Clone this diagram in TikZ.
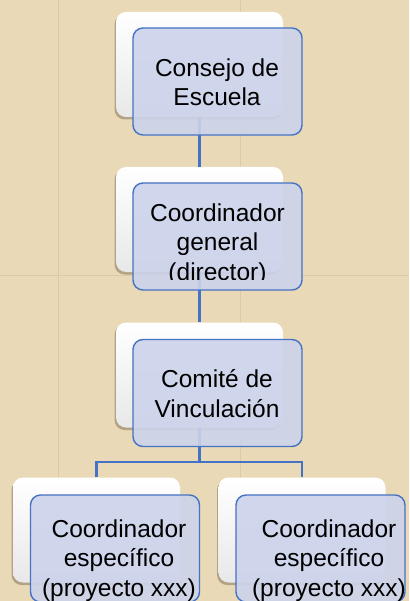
\documentclass[tikz,border=0pt]{standalone}
\usepackage{fontspec}
\setmainfont{Liberation Sans}
\usetikzlibrary{shadows}
\definecolor{parch}{RGB}{234,217,183}
\definecolor{seam}{RGB}{200,180,142}
\definecolor{lineblue}{RGB}{68,114,196}
\definecolor{boxblue}{RGB}{204,211,235}
\begin{document}
\begin{tikzpicture}[x=1pt,y=-1pt,
  backbox/.style={rectangle, rounded corners=10pt, minimum width=167pt, minimum height=105pt, inner sep=0pt,
    top color=white, bottom color=black!9,
    drop shadow={shadow xshift=-1.5pt, shadow yshift=-2.5pt, opacity=0.3, fill=black!70!brown}},
  frontbox/.style={rectangle, rounded corners=10pt, draw=lineblue, line width=1.4pt, fill=boxblue,
    fill opacity=0.9, minimum width=169pt, minimum height=107pt, inner sep=0pt},
  boxtext/.style={align=center, font=\fontsize{24.5}{29.5}\selectfont, text=black, inner sep=0pt, anchor=base},
  conn/.style={draw=lineblue, line width=2.2pt}]
\useasboundingbox (0,0) rectangle (409,601);
\clip (0,0) rectangle (409,601);
\fill[parch] (0,0) rectangle (409,601);
\draw[seam, line width=0.8pt, opacity=0.4] (58,0) -- (58,601) (240,0) -- (240,601) (0,275) -- (409,275);
% back (white) boxes
\node[backbox] (w1) at (199.5,64.5) {};
\node[backbox] (w2) at (199.5,219.5) {};
\node[backbox] (w3) at (199.5,375) {};
\node[backbox] (w4) at (96.5,530) {};
\node[backbox] (w5) at (302,530) {};
% connectors
\coordinate (split) at (199.5,462);
\draw[conn] (w1.south) -- (w2.north);
\draw[conn] (w2.south) -- (w3.north);
\draw[conn] (w3.south) -- (split);
\draw[conn] (w4.north) |- (split) -| (w5.north);
% front (blue) boxes
\node[frontbox] (b1) at (217.5,81.5) {};
\node[frontbox] (b2) at (217.5,236.5) {};
\node[frontbox] (b3) at (217.5,393) {};
\node[frontbox] (b4) at (115,548.5) {};
\node[frontbox] (b5) at (320.5,548.5) {};
% texts (base anchor = baseline of last line)
\node[boxtext] (t1) at (217,106) {Consejo de\\Escuela};
\begin{scope}
\clip (0,0) rectangle (409,279);
\node[boxtext] (t2) at (217.5,280) {Coordinador\\general\\(director)};
\end{scope}
\node[boxtext] (t3) at (217,417) {Comité de\\Vinculación};
\node[boxtext] (t4) at (119,596) {Coordinador\\específico\\(proyecto xxx)};
\node[boxtext] (t5) at (329,596) {Coordinador\\específico\\(proyecto xxx)};
\end{tikzpicture}
\end{document}
